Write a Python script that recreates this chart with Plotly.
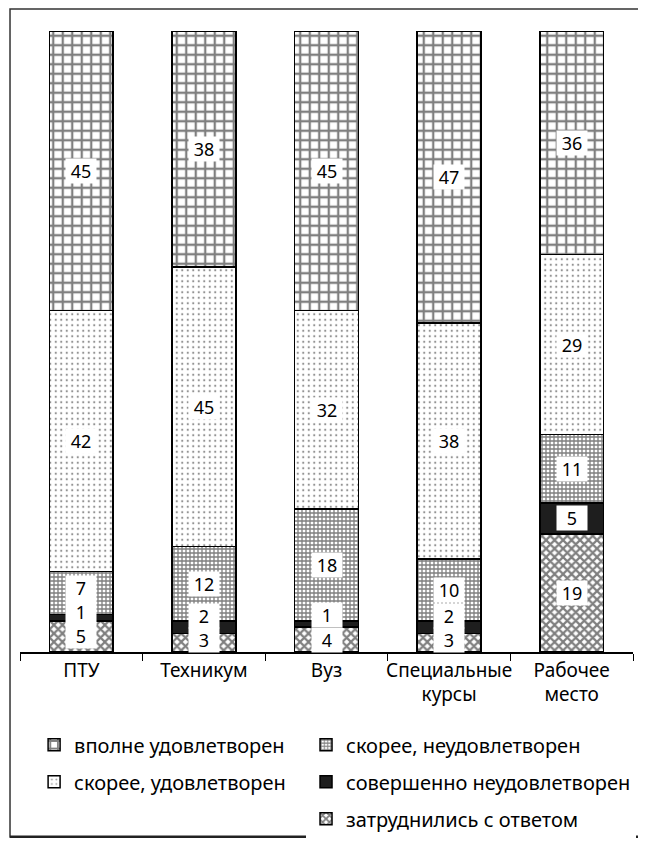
import numpy as np
import plotly.graph_objects as go

categories = ["ПТУ", "Техникум", "Вуз", "Специальные<br>курсы", "Рабочее<br>место"]

# stacked from bottom to top
zatrud = [5, 3, 4, 3, 19]
sovsem_neud = [1, 2, 1, 2, 5]
skoree_neud = [7, 12, 18, 10, 11]
skoree_ud = [42, 45, 32, 38, 29]
vpolne_ud = [45, 38, 45, 47, 36]

series = [
    ("затруднились с ответом", zatrud, dict(shape="x", size=6, solidity=0.6, fgcolor="black", bgcolor="white"), "legend2", 3),
    ("совершенно неудовлетворен", sovsem_neud, dict(shape="", bgcolor="#1e1e1e"), "legend2", 2),
    ("скорее, неудовлетворен", skoree_neud, dict(shape="+", size=4, solidity=0.55, fgcolor="black", bgcolor="white"), "legend2", 1),
    ("скорее, удовлетворен", skoree_ud, dict(shape=".", size=5.5, solidity=0.12, fgcolor="#222222", bgcolor="white"), "legend", 2),
    ("вполне удовлетворен", vpolne_ud, dict(shape="+", size=9.5, solidity=0.42, fgcolor="black", bgcolor="white"), "legend", 1),
]

FONT = "Noto Sans"
fig = go.Figure()
for name, vals, pat, leg, rank in series:
    color = "#1e1e1e" if pat.get("shape") == "" else "white"
    fig.add_trace(go.Bar(
        x=categories, y=vals, name=name, width=0.52,
        marker=dict(color=color, pattern=pat, line=dict(color="black", width=1.5)),
        legend=leg, legendrank=rank, legendgroup=name, hoverinfo="skip",
    ))

# value labels in white boxes, stacked so small segments' boxes don't collide
BOX_H = 3.9  # box height in data units (~24 px)
bottom = np.zeros(len(categories))
prev = np.full(len(categories), -BOX_H / 2)
for name, vals, pat, leg, rank in series:
    v = np.array(vals, dtype=float)
    mids = bottom + v / 2
    pos = np.maximum(mids, prev + BOX_H)
    for cat, val, p in zip(categories, vals, pos):
        fig.add_annotation(x=cat, y=p, text=str(val), showarrow=False,
                           font=dict(family=FONT, size=18, color="black"),
                           bgcolor="white", borderpad=0, width=30, height=24)
    prev = pos
    bottom = bottom + v

fig.update_layout(
    width=638, height=830,
    margin=dict(l=12, r=13, t=23, b=186, autoexpand=False),
    barmode="stack",
    plot_bgcolor="white", paper_bgcolor="white",
    font=dict(family=FONT, size=19, color="black"),
    xaxis=dict(type="category", tickson="boundaries", ticks="outside", ticklen=7,
               tickangle=0,
               tickcolor="black", showline=True, linecolor="black", linewidth=1.5,
               showgrid=False, tickfont=dict(family=FONT, size=19, color="black")),
    yaxis=dict(range=[0, 100], visible=False),
    legend=dict(x=0.023, y=-0.118, xanchor="left", yanchor="top", orientation="v",
                font=dict(family=FONT, size=20, color="black"), tracegroupgap=8,
                traceorder="grouped"),
    legend2=dict(x=0.4666, y=-0.118, xanchor="left", yanchor="top", orientation="v",
                 font=dict(family=FONT, size=20, color="black"), tracegroupgap=8,
                 traceorder="grouped"),
    shapes=[
        dict(type="rect", xref="paper", yref="paper", x0=-0.0163, x1=1.0114,
             y0=-0.2979, y1=1.0354, line=dict(color="#333333", width=1.5)),
        dict(type="line", xref="paper", yref="paper", x0=-0.0163, x1=1.0114,
             y0=-0.2979, y1=-0.2979, line=dict(color="#222222", width=3)),
    ],
)

fig.write_html("out.html")
